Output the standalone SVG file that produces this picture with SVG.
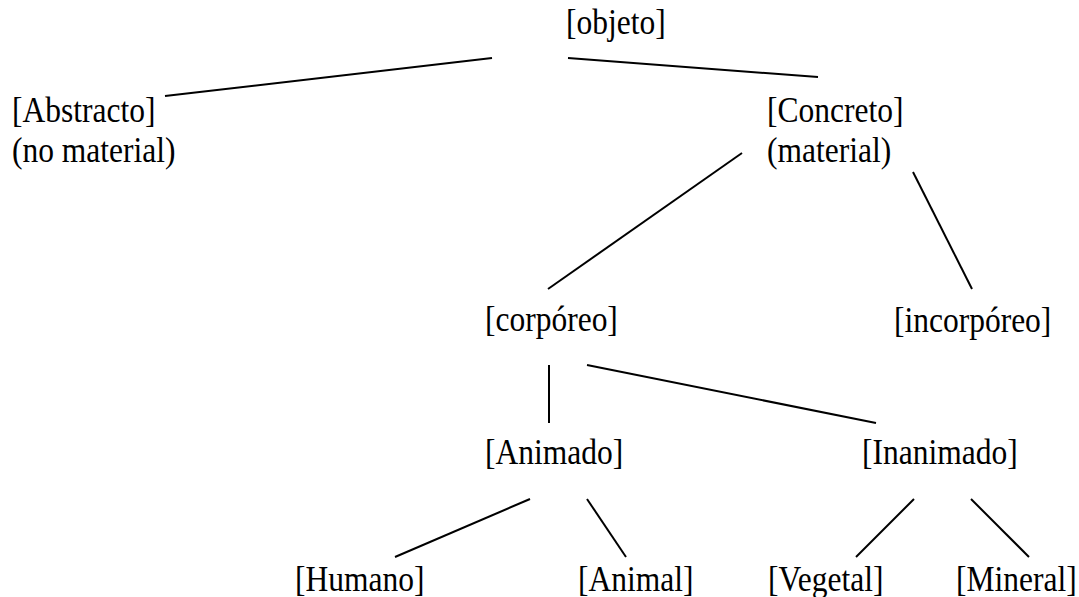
<svg xmlns="http://www.w3.org/2000/svg" width="1079" height="597" viewBox="0 0 1079 597">
<style>
text { font-family: "Liberation Serif", "Times New Roman", serif; font-size: 31.5px; fill: #000; }
.c line { stroke: #000; stroke-width: 2; }
</style>
<rect width="1079" height="597" fill="#fff"/>
<g class="c" id="connectors">
<line x1="492" y1="58" x2="165" y2="96"/>
<line x1="568" y1="58" x2="818" y2="77"/>
<line x1="742" y1="153" x2="548" y2="289"/>
<line x1="913" y1="172" x2="972" y2="289"/>
<line x1="549" y1="365" x2="549" y2="423"/>
<line x1="587" y1="365" x2="876" y2="423"/>
<line x1="530" y1="499" x2="395" y2="557"/>
<line x1="587" y1="499" x2="626" y2="557"/>
<line x1="914" y1="499" x2="856" y2="557"/>
<line x1="971" y1="499" x2="1029" y2="557"/>
</g>
<g id="objeto"><text transform="translate(566,34) scale(1,1.13)">[objeto]</text></g>
<g id="abstracto"><text transform="translate(12,122) scale(1,1.13)">[Abstracto]</text><text transform="translate(12,162) scale(1,1.13)">(no material)</text></g>
<g id="concreto"><text transform="translate(767,122) scale(1,1.13)">[Concreto]</text><text transform="translate(767,162) scale(1,1.13)">(material)</text></g>
<g id="corporeo"><text transform="translate(485,331) scale(1,1.13)">[corpóreo]</text></g>
<g id="incorporeo"><text transform="translate(894,332) scale(1,1.13)">[incorpóreo]</text></g>
<g id="animado"><text transform="translate(485,464) scale(1,1.13)">[Animado]</text></g>
<g id="inanimado"><text transform="translate(862,464) scale(1,1.13)">[Inanimado]</text></g>
<g id="humano"><text transform="translate(295,591) scale(1,1.13)">[Humano]</text></g>
<g id="animal"><text transform="translate(578,591) scale(1,1.13)">[Animal]</text></g>
<g id="vegetal"><text transform="translate(768,591) scale(1,1.13)">[Vegetal]</text></g>
<g id="mineral"><text transform="translate(956,591) scale(1,1.13)">[Mineral]</text></g>
</svg>
